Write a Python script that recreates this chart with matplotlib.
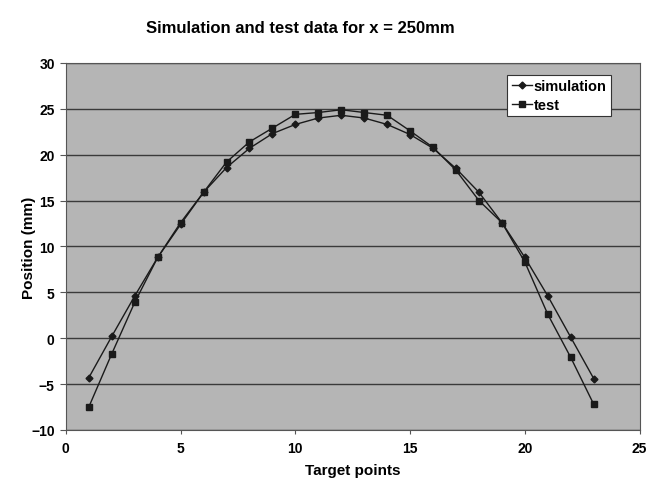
import matplotlib
matplotlib.use("Agg")
import matplotlib.pyplot as plt

points = list(range(1, 24))
simulation = [-4.3, 0.2, 4.6, 8.8, 12.4, 15.9, 18.6, 20.7, 22.3, 23.3, 24.0, 24.3,
              24.0, 23.3, 22.2, 20.7, 18.5, 15.9, 12.6, 8.8, 4.6, 0.1, -4.4]
test = [-7.5, -1.7, 3.9, 8.8, 12.6, 15.9, 19.2, 21.4, 22.9, 24.4, 24.6, 24.9,
        24.6, 24.3, 22.6, 20.8, 18.3, 15.0, 12.6, 8.3, 2.6, -2.1, -7.2]
x_ticks = [0, 5, 10, 15, 20, 25]
y_ticks = [-10, -5, 0, 5, 10, 15, 20, 25, 30]

plt.rcParams['font.family'] = ['Liberation Sans', 'DejaVu Sans']
plt.rcParams['font.weight'] = 'bold'

fig = plt.figure(figsize=(6.52, 4.81), dpi=100)
ax = fig.add_axes([0.101, 0.104, 0.880, 0.763])
ax.set_facecolor('#b5b5b5')

ax.plot(points, simulation, color='#1a1a1a', lw=1.0, marker='D', ms=3.5,
        label='simulation', zorder=3)
ax.plot(points, test, color='#1a1a1a', lw=1.0, marker='s', ms=4.5,
        label='test', zorder=3)

ax.set_xlim(0, 25)
ax.set_ylim(-10, 30)
ax.set_xticks(x_ticks)
ax.set_yticks(y_ticks)
ax.yaxis.grid(True, color='#3a3a3a', lw=1.0)
ax.set_axisbelow(True)
for s in ax.spines.values():
    s.set_color('#555555')
    s.set_linewidth(0.8)
ax.tick_params(axis='x', labelsize=10, length=3, color='#555555', pad=5)
ax.tick_params(axis='y', labelsize=10, length=4, color='#555555', pad=4)
for lab in ax.get_xticklabels() + ax.get_yticklabels():
    lab.set_fontweight('bold')

ax.set_xlabel('Target points', fontsize=11, fontweight='bold', labelpad=6)
ax.set_ylabel('Position (mm)', fontsize=11, fontweight='bold')
ax.yaxis.set_label_coords(-0.052, 0.5)
fig.text(0.46, 0.94, 'Simulation and test data for x = 250mm', ha='center',
         va='center', fontsize=12, fontweight='bold')

leg = ax.legend(loc='upper right', bbox_to_anchor=(0.955, 0.975), fontsize=10.5,
                frameon=True, fancybox=False, edgecolor='#333333',
                handlelength=1.4, borderpad=0.3, labelspacing=0.3,
                handletextpad=0.1, borderaxespad=0.2)
leg.get_frame().set_linewidth(0.8)
leg.get_frame().set_facecolor('white')
leg.get_frame().set_alpha(1.0)

fig.savefig('out.png', dpi=100, facecolor='white')
